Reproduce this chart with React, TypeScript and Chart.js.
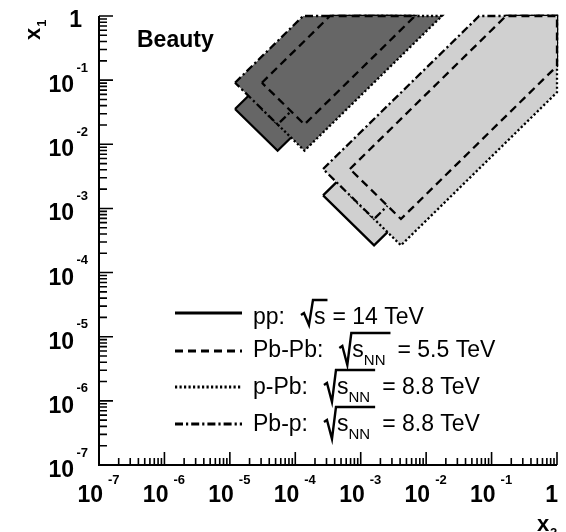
import { useEffect, useRef } from 'react';
import { Chart, registerables } from 'chart.js';

Chart.register(...registerables);

// ---- axes ----
const axisMin = 1e-7;
const axisMax = 1;
const decadeExponents = [-7, -6, -5, -4, -3, -2, -1, 0];
const minorMultipliers = [2, 3, 4, 5, 6, 7, 8, 9];

// ---- legend ----
const systems = ['pp:', 'Pb-Pb:', 'p-Pb:', 'Pb-p:'];
const energyLabels = ['14 TeV', '5.5 TeV', '8.8 TeV', '8.8 TeV'];
const sqrtSubscripts = ['', 'NN', 'NN', 'NN'];
const panelTitle = 'Beauty';

// ---- forward (muon arm) regions, dark: corners (x2, x1) ----
const muonPP_x2 = [1.2e-5, 3.39e-4, 6.76e-3, 5.37e-5];
const muonPP_x1 = [3.55e-2, 1, 1, 7.94e-3];
const muonPbPb_x2 = [3.09e-5, 3.39e-4, 6.76e-3, 1.38e-4];
const muonPbPb_x1 = [9.12e-2, 1, 1, 2.04e-2];
const muonPPb_x2 = [3.09e-5, 8.71e-4, 1.74e-2, 1.38e-4];
const muonPPb_x1 = [3.55e-2, 1, 1, 7.94e-3];
const muonPbP_x2 = [1.2e-5, 1.32e-4, 2.63e-3, 5.37e-5];
const muonPbP_x1 = [9.12e-2, 1, 1, 2.04e-2];

// ---- central barrel regions, light: corners (x2, x1) ----
const barrelPP_x2 = [2.66e-4, 0.166, 1, 1, 1.6e-3];
const barrelPP_x1 = [1.6e-3, 1, 1, 0.166, 2.66e-4];
const barrelPbPb_x2 = [6.84e-4, 0.166, 1, 1, 4.12e-3];
const barrelPbPb_x1 = [4.12e-3, 1, 1, 0.166, 6.84e-4];
const barrelPPb_x2 = [6.84e-4, 0.427, 1, 1, 4.12e-3];
const barrelPPb_x1 = [1.6e-3, 1, 1, 6.46e-2, 2.66e-4];
const barrelPbP_x2 = [2.66e-4, 6.46e-2, 1, 1, 1.6e-3];
const barrelPbP_x1 = [4.12e-3, 1, 1, 0.427, 6.84e-4];

const FONT = '"Liberation Sans", Arial, Helvetica, sans-serif';
const DARK = '#666666';
const LIGHT = '#d0d0d0';
// style per system: pp solid, Pb-Pb dashed, p-Pb dotted, Pb-p dash-dot
const DASHES = [[], [8, 5], [2.2, 2.3], [8, 3, 2.2, 3]];
const DRAW_ORDER = [4, 1, 3, 2];

const regions = [
  { x2: muonPP_x2, x1: muonPP_x1, sys: 0, color: DARK },
  { x2: muonPPb_x2, x1: muonPPb_x1, sys: 2, color: DARK },
  { x2: muonPbP_x2, x1: muonPbP_x1, sys: 3, color: DARK },
  { x2: muonPbPb_x2, x1: muonPbPb_x1, sys: 1, color: DARK },
  { x2: barrelPP_x2, x1: barrelPP_x1, sys: 0, color: LIGHT },
  { x2: barrelPPb_x2, x1: barrelPPb_x1, sys: 2, color: LIGHT },
  { x2: barrelPbP_x2, x1: barrelPbP_x1, sys: 3, color: LIGHT },
  { x2: barrelPbPb_x2, x1: barrelPbPb_x1, sys: 1, color: LIGHT },
];

const polyFillPlugin = {
  id: 'polyFill',
  beforeDatasetDraw(chart: any, args: any) {
    const ds = chart.data.datasets[args.index];
    const pts = args.meta.data;
    if (!pts || !pts.length) return;
    const ctx = chart.ctx;
    ctx.save();
    ctx.beginPath();
    pts.forEach((p: any, i: number) => (i ? ctx.lineTo(p.x, p.y) : ctx.moveTo(p.x, p.y)));
    ctx.closePath();
    ctx.fillStyle = ds.polyColor;
    ctx.fill();
    ctx.restore();
  },
};

const framePlugin = {
  id: 'frame',
  afterDraw(chart: any) {
    const { ctx, chartArea: a } = chart;
    const xs = chart.scales.x;
    const ys = chart.scales.y;
    ctx.save();
    ctx.strokeStyle = '#000';
    ctx.fillStyle = '#000';
    ctx.setLineDash([]);

    // axis lines
    ctx.lineWidth = 2;
    ctx.beginPath();
    ctx.moveTo(a.left, a.top);
    ctx.lineTo(a.left, a.bottom);
    ctx.lineTo(a.right, a.bottom);
    ctx.stroke();

    // ticks (inside)
    ctx.lineWidth = 1.6;
    ctx.beginPath();
    decadeExponents.forEach((e) => {
      const base = Math.pow(10, e);
      const py = ys.getPixelForValue(base);
      ctx.moveTo(a.left, py);
      ctx.lineTo(a.left + 14, py);
      const px = xs.getPixelForValue(base);
      ctx.moveTo(px, a.bottom);
      ctx.lineTo(px, a.bottom - 13);
      if (e < 0) {
        minorMultipliers.forEach((m) => {
          const v = m * base;
          const yy = ys.getPixelForValue(v);
          ctx.moveTo(a.left, yy);
          ctx.lineTo(a.left + 8, yy);
          const xx = xs.getPixelForValue(v);
          ctx.moveTo(xx, a.bottom);
          ctx.lineTo(xx, a.bottom - 7);
        });
      }
    });
    ctx.stroke();

    // tick labels
    const big = 'bold 23px ' + FONT;
    const small = 'bold 13px ' + FONT;
    decadeExponents.forEach((e) => {
      const v = Math.pow(10, e);
      const py = ys.getPixelForValue(v);
      const px = xs.getPixelForValue(v);
      if (e === 0) {
        ctx.font = big;
        ctx.textAlign = 'right';
        ctx.fillText('1', a.left - 17, py + 11);
        ctx.fillText('1', px + 1, a.bottom + 37);
      } else {
        ctx.font = big;
        ctx.textAlign = 'right';
        ctx.fillText('10', a.left - 25, py + 12);
        ctx.fillText('10', px + 4, a.bottom + 37);
        ctx.font = small;
        ctx.textAlign = 'left';
        ctx.fillText('-' + Math.abs(e), a.left - 22.5, py - 8.5);
        ctx.fillText('-' + Math.abs(e), px + 9, a.bottom + 19);
      }
    });

    // axis titles
    ctx.textAlign = 'left';
    ctx.font = 'bold 22px ' + FONT;
    ctx.fillText('x', 537, 531);
    ctx.font = 'bold 13px ' + FONT;
    ctx.fillText('2', 550, 537);
    ctx.save();
    ctx.translate(40, 40);
    ctx.rotate(-Math.PI / 2);
    ctx.font = 'bold 22px ' + FONT;
    ctx.fillText('x', 0, 0);
    const xw = ctx.measureText('x').width;
    ctx.font = 'bold 13px ' + FONT;
    ctx.fillText('1', xw + 1, 6);
    ctx.restore();

    // panel title
    ctx.font = 'bold 23px ' + FONT;
    ctx.fillText(panelTitle, 137, 47);

    // legend
    const lineYs = [313, 351, 387, 424];
    const baselines = [324, 357, 394, 431];
    systems.forEach((name, i) => {
      const b = baselines[i];
      ctx.lineWidth = 2.8;
      ctx.setLineDash(DASHES[i]);
      ctx.beginPath();
      ctx.moveTo(175, lineYs[i]);
      ctx.lineTo(242, lineYs[i]);
      ctx.stroke();
      ctx.setLineDash([]);

      ctx.font = '23px ' + FONT;
      ctx.textAlign = 'left';
      ctx.fillText(name, 253, b);
      const x0 = 253 + ctx.measureText(name).width + 16;
      const hasSub = sqrtSubscripts[i] !== '';
      const sx = x0 + 13;
      ctx.fillText('s', sx, b);
      let cx = sx + ctx.measureText('s').width;
      if (hasSub) {
        ctx.font = '15px ' + FONT;
        ctx.fillText(sqrtSubscripts[i], cx, b + 8);
        cx += ctx.measureText(sqrtSubscripts[i]).width;
      }
      const overEnd = cx + (hasSub ? 5 : 2);
      ctx.lineWidth = 2.4;
      ctx.beginPath();
      ctx.moveTo(x0, b - 9);
      ctx.lineTo(x0 + 3, b - 11);
      ctx.lineTo(x0 + 8, b + (hasSub ? 8 : 1));
      ctx.lineTo(x0 + 12, b - 24);
      ctx.lineTo(overEnd, b - 24);
      ctx.stroke();
      ctx.font = '23px ' + FONT;
      ctx.fillText('= ' + energyLabels[i], overEnd + (hasSub ? 7 : 5), b);
    });

    ctx.restore();
  },
};

export default function App() {
  const canvasRef = useRef<HTMLCanvasElement | null>(null);

  useEffect(() => {
    if (!canvasRef.current) return;
    const datasets = regions.map((r) => {
      const pts = r.x2.map((v, i) => ({ x: v, y: r.x1[i] }));
      pts.push({ x: r.x2[0], y: r.x1[0] });
      return {
        data: pts,
        showLine: true,
        fill: false,
        polyColor: r.color,
        borderColor: '#000',
        borderWidth: 2.3,
        borderDash: DASHES[r.sys],
        pointRadius: 0,
        pointHoverRadius: 0,
        tension: 0,
        clip: false,
        order: DRAW_ORDER[r.sys],
      } as any;
    });

    const chart = new Chart(canvasRef.current, {
      type: 'scatter',
      data: { datasets },
      options: {
        responsive: false,
        animation: false,
        events: [],
        layout: { padding: { left: 99, right: 9, top: 16, bottom: 67 } },
        plugins: { legend: { display: false }, tooltip: { enabled: false } },
        scales: {
          x: { type: 'logarithmic', min: axisMin, max: axisMax, display: false },
          y: { type: 'logarithmic', min: axisMin, max: axisMax, display: false },
        },
      } as any,
      plugins: [polyFillPlugin, framePlugin],
    });
    return () => chart.destroy();
  }, []);

  return (
    <div style={{ position: 'fixed', left: 0, top: 0, width: 566, height: 532, background: '#fff' }}>
      <canvas ref={canvasRef} width={566} height={532} style={{ display: 'block' }} />
    </div>
  );
}
